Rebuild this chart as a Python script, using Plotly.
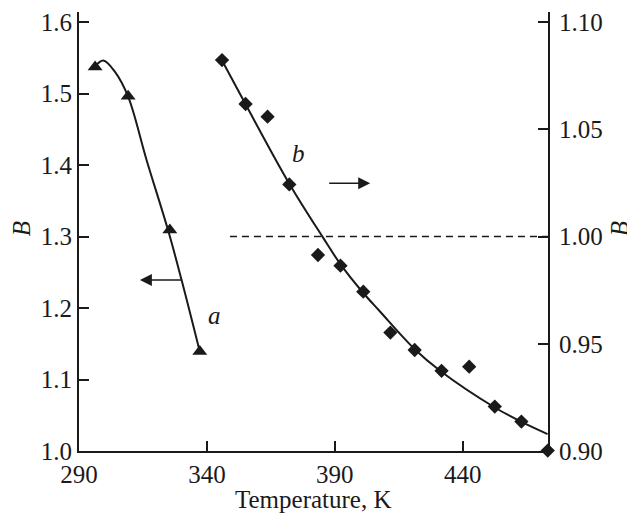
import plotly.graph_objects as go

# Series a (left axis): measured points (triangles)
a_T = [296.3, 309.2, 325.5, 337.2]
a_B = [1.537, 1.496, 1.309, 1.139]
# Series a fitted curve
a_fit_T = [296.2, 299.5, 304.0, 309.2, 316.4, 324.8, 330.1, 337.2]
a_fit_B = [1.5375, 1.546, 1.5305, 1.4955, 1.407, 1.309, 1.239, 1.139]

# Series b (right axis): measured points (diamonds)
b_T = [345.9, 355.1, 363.7, 372.2, 383.4, 392.2, 401.1, 411.7, 421.2, 431.7, 442.5, 452.5, 462.9, 473.2]
b_B = [1.0823, 1.0618, 1.0559, 1.0243, 0.9914, 0.9864, 0.9743, 0.9552, 0.9471, 0.9374, 0.9393, 0.9207, 0.9137, 0.9002]
# Series b fitted curve
b_fit_T = [345.8, 355.05, 372.07, 385.33, 392.24, 400.94, 407.46, 421.12, 431.26, 452.34, 462.75, 473.13]
b_fit_B = [1.0823, 1.0618, 1.0249, 0.9996, 0.9870, 0.9739, 0.9653, 0.9476, 0.9373, 0.9204, 0.9137, 0.9079]

# Reference dashed line at B = 1.00 (right axis)
ref_T = [349.0, 473.3]
ref_B = [1.00, 1.00]

x_ticks = [290, 340, 390, 440]
y_ticks = [1.0, 1.1, 1.2, 1.3, 1.4, 1.5, 1.6]
y2_ticks = [0.90, 0.95, 1.00, 1.05, 1.10]

FONT = "Liberation Serif"
INK = "#1a1a1a"
FS = 25

fig = go.Figure()
fig.add_trace(go.Scatter(x=ref_T, y=ref_B, yaxis="y2", mode="lines",
                         line=dict(color=INK, width=1.4, dash="7px,5px"), showlegend=False))
fig.add_trace(go.Scatter(x=a_fit_T, y=a_fit_B, mode="lines",
                         line=dict(color=INK, width=2, shape="spline", smoothing=1.0), showlegend=False))
fig.add_trace(go.Scatter(x=a_T, y=a_B, mode="markers", cliponaxis=False,
                         marker=dict(symbol="triangle-up", size=13, color=INK), showlegend=False))
fig.add_trace(go.Scatter(x=b_fit_T, y=b_fit_B, yaxis="y2", mode="lines",
                         line=dict(color=INK, width=2, shape="spline", smoothing=1.0), showlegend=False))
fig.add_trace(go.Scatter(x=b_T, y=b_B, yaxis="y2", mode="markers", cliponaxis=False,
                         marker=dict(symbol="diamond", size=11, color=INK), showlegend=False))

axis_common = dict(showgrid=False, zeroline=False, showline=True, linecolor=INK, linewidth=2,
                   ticks="inside", ticklen=10, tickwidth=1.5, tickcolor=INK, automargin=False,
                   tickfont=dict(family=FONT, size=FS, color=INK))

# The page body adds an 8px offset, so the figure is shrunk by 8px and margins compensate.
fig.update_layout(
    width=627, height=513, autosize=False,
    margin=dict(l=71, r=87, t=4, b=70, pad=0),
    paper_bgcolor="white", plot_bgcolor="white",
    font=dict(family=FONT, color=INK),
    xaxis=dict(range=[290, 473.3], tickvals=x_ticks, **axis_common),
    yaxis=dict(range=[1.0, 1.614], tickvals=y_ticks, tickformat=".1f", **axis_common),
    yaxis2=dict(range=[0.90, 1.1047], tickvals=y2_ticks, tickformat=".2f", overlaying="y", side="right",
                ticklabelstandoff=4, **axis_common),
)

# Axis titles
fig.add_annotation(x=0, xref="paper", y=1.31, yref="y", xshift=-58, xanchor="center", yanchor="middle",
                   text="<i>B</i>", textangle=-90,
                   showarrow=False, font=dict(family=FONT, size=FS, color=INK))
fig.add_annotation(x=1, xref="paper", y=1.31, yref="y", xshift=71, xanchor="center", yanchor="middle",
                   text="<i>B</i>", textangle=-90,
                   showarrow=False, font=dict(family=FONT, size=FS, color=INK))
fig.add_annotation(x=0.5, xref="paper", y=0, yref="paper", yshift=-48, xanchor="center", yanchor="middle",
                   text="Temperature, K",
                   showarrow=False, font=dict(family=FONT, size=FS, color=INK))

# Curve labels
fig.add_annotation(x=343.1, y=1.190, text="<i>a</i>", showarrow=False,
                   font=dict(family=FONT, size=FS, color=INK))
fig.add_annotation(x=375.6, y=1.416, text="<i>b</i>", showarrow=False,
                   font=dict(family=FONT, size=FS, color=INK))
# Axis-indicating arrows
fig.add_annotation(x=313.8, y=1.239, ax=330.6, ay=1.239, axref="x", ayref="y", xref="x", yref="y",
                   text="", showarrow=True, arrowhead=2, arrowsize=1.6, arrowwidth=1.5, arrowcolor=INK)
fig.add_annotation(x=403.8, y=1.3744, ax=387.2, ay=1.3744, axref="x", ayref="y", xref="x", yref="y",
                   text="", showarrow=True, arrowhead=2, arrowsize=1.6, arrowwidth=1.5, arrowcolor=INK)

fig.write_html("out.html")
